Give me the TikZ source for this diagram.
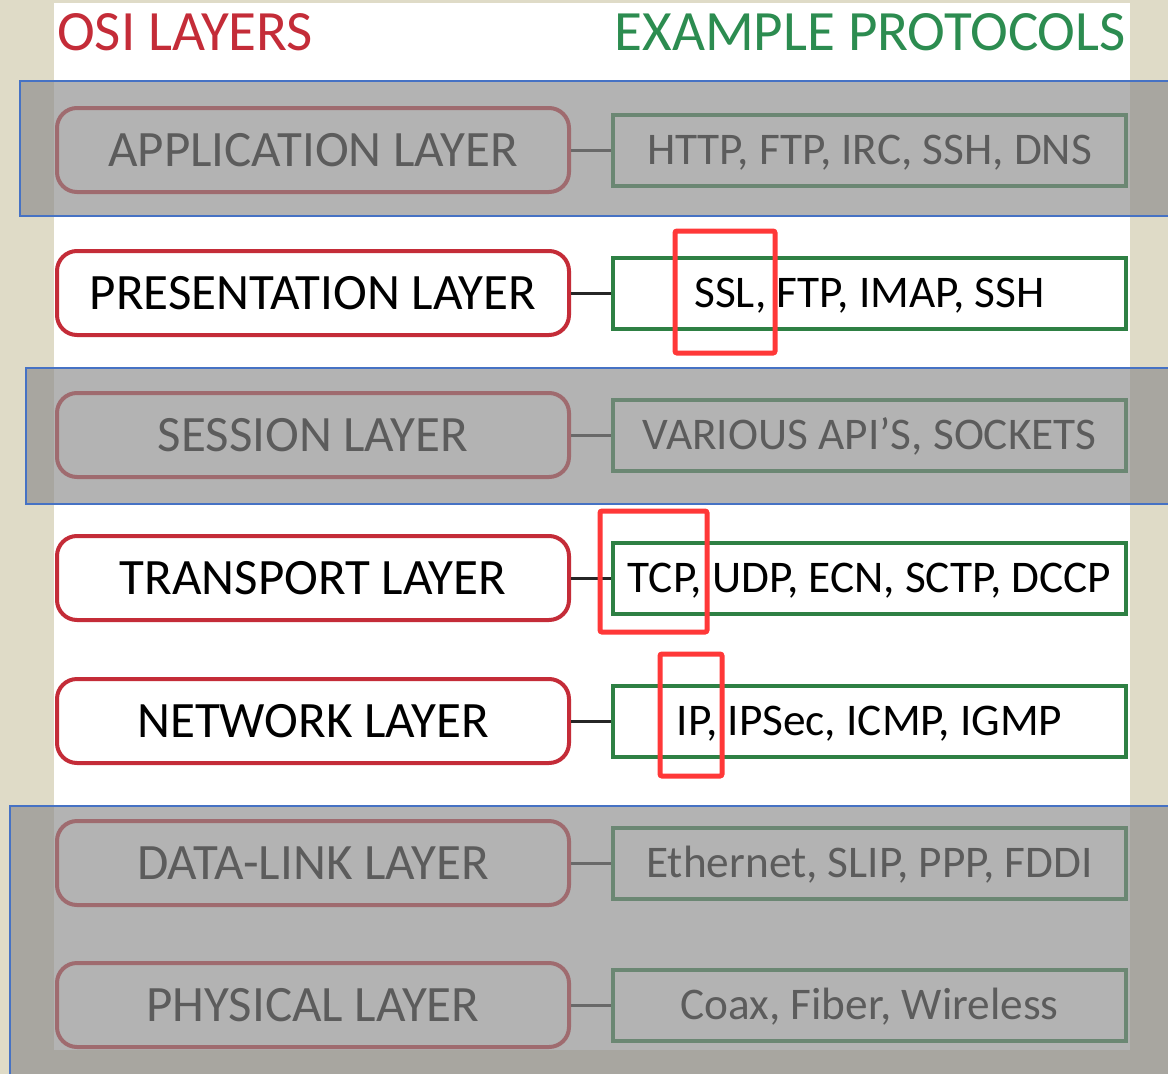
\documentclass[tikz,border=0pt]{standalone}
\usepackage{fontspec}
\setmainfont{Carlito}
\definecolor{beige}{RGB}{223,219,199}
\definecolor{layerred}{RGB}{196,44,56}
\definecolor{protogreen}{RGB}{46,128,68}
\definecolor{headgreen}{RGB}{44,140,80}
\definecolor{markred}{RGB}{255,56,56}
\definecolor{shadeblue}{RGB}{70,114,196}
\definecolor{shadegray}{RGB}{140,140,140}
\begin{document}
\begin{tikzpicture}[x=1pt,y=-1pt,
  layerbox/.style={draw=layerred,line width=4pt,fill=white,rounded corners=20pt,
    minimum width=512pt,minimum height=84pt,inner sep=0pt,
    text height=33pt,text depth=0pt,
    font=\fontsize{51}{56}\selectfont,text=black},
  protobox/.style={draw=protogreen,line width=4pt,fill=white,
    minimum width=513pt,minimum height=71pt,inner sep=0pt,
    text height=29pt,text depth=0pt,
    font=\fontsize{45.3}{50}\selectfont,text=black},
  link/.style={draw=black!85,line width=3pt},
  shade/.style={fill=shadegray,fill opacity=0.66,draw=shadeblue,line width=1.3pt},
  redmark/.style={draw=markred,line width=5pt,rounded corners=2pt},
  header/.style={font=\fontsize{57}{62}\selectfont,inner sep=0pt}]
\useasboundingbox (0,0) rectangle (1168,1074);
\fill[beige] (0,0) rectangle (1168,1074);
\fill[white] (54,3) rectangle (1130,1050);
% headers
\node[header,text=layerred,anchor=base west] (hosi) at (57,50) {OSI LAYERS};
\node[header,text=headgreen,anchor=base east] (hproto) at (1126,50) {EXAMPLE PROTOCOLS};
% rows
\foreach \n/\y/\l/\p in {app/150/APPLICATION LAYER/{HTTP, FTP, IRC, SSH, DNS},
  pres/293/PRESENTATION LAYER/{SSL, FTP, IMAP, SSH},
  sess/435/SESSION LAYER/{VARIOUS API’S, SOCKETS},
  trans/578/TRANSPORT LAYER/{TCP, UDP, ECN, SCTP, DCCP},
  net/721/NETWORK LAYER/{IP, IPSec, ICMP, IGMP},
  dl/863/DATA-LINK LAYER/{Ethernet, SLIP, PPP, FDDI},
  phys/1005/PHYSICAL LAYER/{Coax, Fiber, Wireless}}{
  \node[layerbox] (\n L) at (313,\y) {\l};
  \node[protobox] (\n P) at (869.5,\y) {\p};
  \draw[link] (\n L.east) -- (\n P.west);
}
% gray overlays
\draw[shade] (20,81) rectangle (1172,216);
\draw[shade] (26,368) rectangle (1172,504);
\draw[shade] (10,806) rectangle (1172,1078);
% red markers
\draw[redmark] (675,231) rectangle (775,353);
\draw[redmark] (600,511) rectangle (707,632);
\draw[redmark] (660,654) rectangle (722,776);
\end{tikzpicture}
\end{document}
